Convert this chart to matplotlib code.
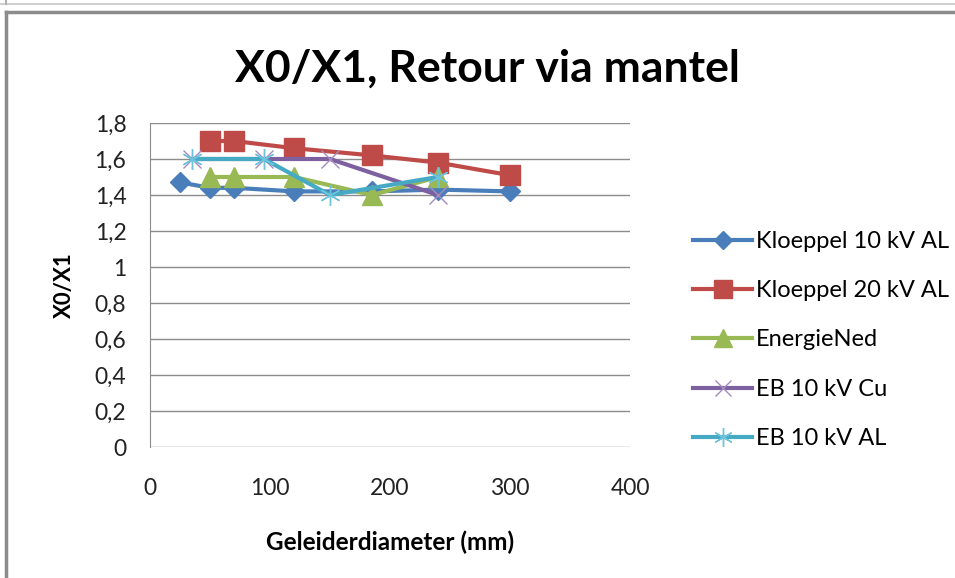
import matplotlib.pyplot as plt
from matplotlib.lines import Line2D

plt.rcParams['font.family'] = ['Lato', 'DejaVu Sans']

# Doorsnede (mm) en X0/X1 per kabeltype
x_kl10 = [25, 50, 70, 120, 185, 240, 300]
y_kl10 = [1.47, 1.44, 1.44, 1.42, 1.42, 1.43, 1.42]

x_kl20 = [50, 70, 120, 185, 240, 300]
y_kl20 = [1.70, 1.70, 1.66, 1.62, 1.58, 1.51]

x_en = [50, 70, 120, 185, 240]
y_en = [1.50, 1.50, 1.50, 1.40, 1.50]

x_ebcu = [35, 95, 150, 240]
y_ebcu = [1.60, 1.60, 1.60, 1.40]

x_ebal = [35, 95, 150, 240]
y_ebal = [1.60, 1.60, 1.40, 1.50]

namen = ['Kloeppel 10 kV AL', 'Kloeppel 20 kV AL', 'EnergieNed', 'EB 10 kV Cu', 'EB 10 kV AL']
y_ticks = [0, 0.2, 0.4, 0.6, 0.8, 1, 1.2, 1.4, 1.6, 1.8]
x_ticks = [0, 100, 200, 300, 400]

W, H = 955, 578
fig = plt.figure(figsize=(W / 100, H / 100), dpi=100)

# kader rond de grafiek
fig.add_artist(Line2D([0, 1], [1 - 3.5 / H, 1 - 3.5 / H], color='#d0d0d0', lw=1.5))
fig.add_artist(Line2D([6 / W, 6 / W], [1 - 3.5 / H, 1], color='#b0b0b0', lw=1.5))
fig.add_artist(Line2D([6 / W, 1], [1 - 11.5 / H, 1 - 11.5 / H], color='#8c8c8c', lw=2.5))
fig.add_artist(Line2D([6 / W, 6 / W], [0, 1 - 11.5 / H], color='#8c8c8c', lw=2.5))

ax = fig.add_axes([150 / W, (H - 447) / H, 480 / W, 324 / H])

ax.plot(x_kl10, y_kl10, color='#4A7EBB', lw=3, marker='D', ms=10, label=namen[0], zorder=3)
ax.plot(x_kl20, y_kl20, color='#BE4B48', lw=3, marker='s', ms=14, label=namen[1], zorder=3)
ax.plot(x_en, y_en, color='#98B954', lw=3, marker='^', ms=14, label=namen[2], zorder=3)
ax.plot(x_ebcu, y_ebcu, color='#7D60A0', lw=3, marker='x', ms=13, mew=1,
        mec='#A48BC0', label=namen[3], zorder=3)
ax.plot(x_ebal, y_ebal, color='#46AAC5', lw=3, marker=(6, 2, 0), ms=15, mew=1,
        mec='#6CC3DB', label=namen[4], zorder=3)

ax.set_xlim(0, 400)
ax.set_ylim(0, 1.8)
ax.set_xticks(x_ticks)
ax.set_yticks(y_ticks)
ax.set_yticklabels([f'{v:g}'.replace('.', ',') for v in y_ticks])
ax.tick_params(axis='both', length=0, labelsize=16.5, colors='#222222')
ax.tick_params(axis='x', pad=22)
ax.tick_params(axis='y', pad=17)
ax.grid(axis='y', color='#8c8c8c', lw=1)
for s in ['top', 'right', 'bottom']:
    ax.spines[s].set_visible(False)
ax.spines['left'].set_color('#8c8c8c')

fig.text(487 / W, 1 - 82 / H, 'X0/X1, Retour via mantel', fontsize=32, fontweight='bold',
         ha='center', va='baseline')
ax.set_xlabel('Geleiderdiameter (mm)', fontsize=17.5, fontweight='bold', labelpad=23)
ax.set_ylabel('X0/X1', fontsize=16, fontweight='bold', labelpad=14)

fig.legend(loc='center left', bbox_to_anchor=(672 / W, 1 - 340 / H), frameon=False,
           fontsize=17, labelspacing=1.2, handlelength=2.5, handletextpad=0.15,
           markerscale=0.9)

fig.savefig('out.png', dpi=100, facecolor='white')
